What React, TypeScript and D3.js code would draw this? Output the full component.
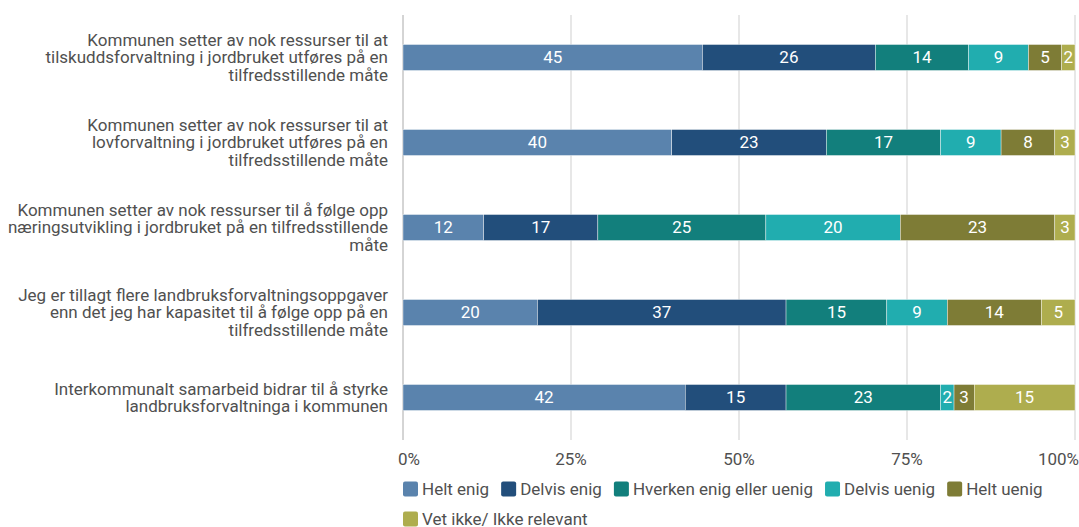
import React, { useEffect, useRef } from 'react';
import * as d3 from 'd3';

const statements = [
  'Kommunen setter av nok ressurser til at tilskuddsforvaltning i jordbruket utføres på en tilfredsstillende måte',
  'Kommunen setter av nok ressurser til at lovforvaltning i jordbruket utføres på en tilfredsstillende måte',
  'Kommunen setter av nok ressurser til å følge opp næringsutvikling i jordbruket på en tilfredsstillende måte',
  'Jeg er tillagt flere landbruksforvaltningsoppgaver enn det jeg har kapasitet til å følge opp på en tilfredsstillende måte',
  'Interkommunalt samarbeid bidrar til å styrke landbruksforvaltninga i kommunen',
];

const answers = ['Helt enig', 'Delvis enig', 'Hverken enig eller uenig', 'Delvis uenig', 'Helt uenig', 'Vet ikke/ Ikke relevant'];
const colors = ['#5a83ad', '#224e7b', '#127f7c', '#21adaf', '#7e7c36', '#aead4e'];

// one array per answer, values in statement order
const heltEnig = [45, 40, 12, 20, 42];
const delvisEnig = [26, 23, 17, 37, 15];
const hverken = [14, 17, 25, 15, 23];
const delvisUenig = [9, 9, 20, 9, 2];
const heltUenig = [5, 8, 23, 14, 3];
const vetIkke = [2, 3, 3, 5, 15];

const tickValues = [0, 0.25, 0.5, 0.75, 1];

const App: React.FC = () => {
  const svgRef = useRef<SVGSVGElement>(null);

  useEffect(() => {
    if (!svgRef.current) return;
    const width = 1079;
    const height = 527;
    const svg = d3.select(svgRef.current);
    svg.selectAll('*').remove();
    svg.attr('width', width).attr('height', height);

    const font = 'Roboto, sans-serif';
    const fs = '17px';
    const textColor = '#505050';
    const series = [heltEnig, delvisEnig, hverken, delvisUenig, heltUenig, vetIkke];
    const rows = statements.map((s, i) => {
      const r: any = { statement: s };
      answers.forEach((a, j) => (r[a] = series[j][i]));
      return r;
    });

    const stacked = d3.stack<any>().keys(answers).offset(d3.stackOffsetExpand)(rows);

    const x = d3.scaleLinear().domain([0, 1]).range([403, 1075]);
    const y = d3.scaleBand<string>().domain(statements).range([15, 440]).padding(0);
    const barH = 26;

    // gridlines
    svg.append('g')
      .selectAll('line')
      .data(tickValues)
      .enter()
      .append('line')
      .attr('x1', d => x(d))
      .attr('x2', d => x(d))
      .attr('y1', 15)
      .attr('y2', 440)
      .attr('stroke', (d) => (d === 0 ? '#aaa' : '#cfcfcf'))
      .attr('stroke-width', 1);

    // tick labels
    svg.append('g')
      .selectAll('text')
      .data(tickValues)
      .enter()
      .append('text')
      .attr('x', (d, i) => (i === 0 ? x(d) - 5 : i === tickValues.length - 1 ? x(d) + 4 : x(d)))
      .attr('y', 459)
      .attr('dy', '0.35em')
      .attr('text-anchor', (d, i) => (i === 0 ? 'start' : i === tickValues.length - 1 ? 'end' : 'middle'))
      .style('font-family', font)
      .style('font-size', fs)
      .style('fill', textColor)
      .text(d => d3.format('.0%')(d));

    // bars
    const layers = svg.append('g')
      .selectAll('g')
      .data(stacked)
      .enter()
      .append('g')
      .attr('fill', (d, i) => colors[i]);

    layers.selectAll('rect')
      .data(d => d.map(v => ({ v, key: d.key })))
      .enter()
      .append('rect')
      .attr('x', d => x(d.v[0]))
      .attr('width', d => x(d.v[1]) - x(d.v[0]))
      .attr('y', d => (y(d.v.data.statement) as number) + (y.bandwidth() - barH) / 2)
      .attr('height', barH)
      .attr('stroke', '#fff')
      .attr('stroke-width', 0.4);

    layers.selectAll('text')
      .data(d => d.map(v => ({ v, key: d.key })))
      .enter()
      .append('text')
      .attr('x', d => (x(d.v[0]) + x(d.v[1])) / 2)
      .attr('y', d => (y(d.v.data.statement) as number) + y.bandwidth() / 2)
      .attr('dy', '0.35em')
      .attr('text-anchor', 'middle')
      .style('font-family', font)
      .style('font-size', fs)
      .style('fill', '#fff')
      .text(d => d.v.data[d.key]);

    // category labels, wrapped
    const maxW = 382;
    const catG = svg.append('g');
    statements.forEach(s => {
      const t = catG.append('text')
        .attr('text-anchor', 'end')
        .style('font-family', font)
        .style('font-size', fs)
        .style('fill', textColor);
      const words = s.split(' ');
      const lines: string[] = [];
      let cur = '';
      const probe = t.append('tspan');
      words.forEach(w => {
        const test = cur ? cur + ' ' + w : w;
        probe.text(test);
        if ((probe.node() as SVGTSpanElement).getComputedTextLength() > maxW && cur) {
          lines.push(cur);
          cur = w;
        } else {
          cur = test;
        }
      });
      lines.push(cur);
      probe.remove();
      const lh = 17.5;
      const cy = (y(s) as number) + y.bandwidth() / 2;
      lines.forEach((l, i) => {
        t.append('tspan')
          .attr('x', 388)
          .attr('y', cy + (i - (lines.length - 1) / 2) * lh)
          .attr('dy', '0.35em')
          .text(l);
      });
    });

    // legend, wrapping
    const legend = svg.append('g');
    let lx = 403;
    let ly = 489;
    answers.forEach((a, i) => {
      const g = legend.append('g');
      const txt = g.append('text')
        .attr('x', 19)
        .attr('dy', '0.35em')
        .style('font-family', font)
        .style('font-size', fs)
        .style('fill', textColor)
        .text(a);
      const w = 19 + (txt.node() as SVGTextElement).getComputedTextLength();
      if (lx + w > 1075) {
        lx = 403;
        ly += 30;
      }
      g.attr('transform', `translate(${lx},${ly})`);
      g.append('rect')
        .attr('x', 0)
        .attr('y', -7.5)
        .attr('width', 15)
        .attr('height', 15)
        .attr('rx', 2)
        .attr('fill', colors[i]);
      lx += w + 12;
    });
  }, []);

  return <svg ref={svgRef} style={{ display: 'block', position: 'absolute', left: 0, top: 0 }}></svg>;
};

export default App;
